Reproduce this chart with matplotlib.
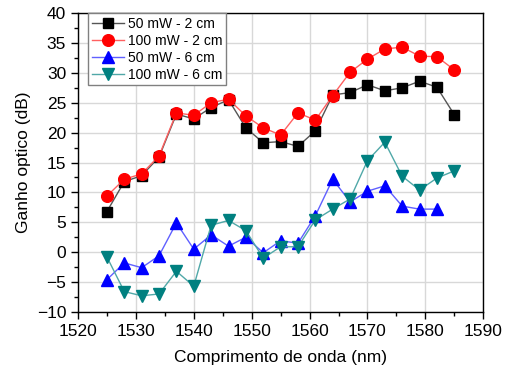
import matplotlib
matplotlib.use("Agg")
import matplotlib.pyplot as plt
from matplotlib.ticker import MultipleLocator

plt.rcParams['font.family'] = ['Liberation Sans', 'DejaVu Sans']

wl = [1525, 1528, 1531, 1534, 1537, 1540, 1543, 1546, 1549, 1552, 1555,
      1558, 1561, 1564, 1567, 1570, 1573, 1576, 1579, 1582, 1585]

g50_2 = [6.8, 11.8, 12.8, 15.9, 23.1, 22.3, 24.2, 25.5, 20.8, 18.3, 18.5,
         17.7, 20.3, 26.3, 26.7, 28.0, 27.0, 27.5, 28.6, 27.6, 23.0]
g100_2 = [9.4, 12.2, 13.1, 16.1, 23.3, 22.9, 25.0, 25.6, 22.8, 20.8, 19.6,
          23.3, 22.1, 26.2, 30.1, 32.3, 34.0, 34.3, 32.8, 32.7, 30.5]
wl50_6 = wl[:20]
g50_6 = [-4.6, -1.8, -2.6, -0.6, 4.9, 0.5, 2.9, 1.0, 2.5, -0.1, 1.9,
         1.5, 6.1, 12.2, 8.4, 10.2, 11.1, 7.7, 7.2, 7.2]
g100_6 = [-0.8, -6.6, -7.3, -7.0, -3.2, -5.7, 4.5, 5.3, 3.6, -1.0, 0.9,
          0.9, 5.4, 7.2, 8.9, 15.3, 18.4, 12.7, 10.4, 12.4, 13.6]

labels = ['50 mW - 2 cm', '100 mW - 2 cm', '50 mW - 6 cm', '100 mW - 6 cm']

fig = plt.figure(figsize=(5.13, 3.74), dpi=100)
ax = fig.add_axes([0.152, 0.166, 0.790, 0.799])

ax.plot(wl, g50_2, color='#555555', lw=1.0, marker='s', ms=7.3,
        mfc='black', mec='black', label=labels[0], zorder=3)
ax.plot(wl, g100_2, color='#ff6060', lw=1.0, marker='o', ms=8.4,
        mfc='red', mec='red', label=labels[1], zorder=4)
ax.plot(wl50_6, g50_6, color='#6060ff', lw=1.0, marker='^', ms=8.6,
        mfc='blue', mec='blue', label=labels[2], zorder=3)
ax.plot(wl, g100_6, color='#50a8a8', lw=1.0, marker='v', ms=8.6,
        mfc='#008080', mec='#008080', label=labels[3], zorder=3)

ax.set_xlim(1520, 1590)
ax.set_ylim(-10, 40)
ax.xaxis.set_major_locator(MultipleLocator(10))
ax.xaxis.set_minor_locator(MultipleLocator(5))
ax.yaxis.set_major_locator(MultipleLocator(5))
ax.yaxis.set_minor_locator(MultipleLocator(2.5))
ax.grid(True, which='major', color='#d8d8d8', lw=1.0, zorder=0)
ax.set_axisbelow(True)
ax.tick_params(which='major', direction='out', length=5, width=1, labelsize=12.5,
               top=False, right=False)
ax.tick_params(which='minor', direction='out', length=3, width=1,
               top=False, right=False)
for s in ax.spines.values():
    s.set_linewidth(1.0)

ax.set_xlabel('Comprimento de onda (nm)', fontsize=12.5, labelpad=8)
ax.set_ylabel('Ganho optico (dB)', fontsize=12.5, labelpad=4)

leg = ax.legend(loc='upper left', fontsize=10, frameon=True, fancybox=False,
                edgecolor='#808080', framealpha=1, borderpad=0.25,
                labelspacing=0.22, handlelength=2.3, handletextpad=0.35,
                borderaxespad=0.0, bbox_to_anchor=(0.025, 1.0))
leg.get_frame().set_linewidth(1.0)

fig.savefig('out.png', dpi=100)
